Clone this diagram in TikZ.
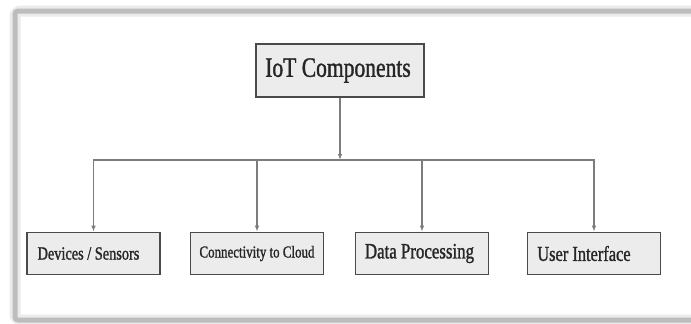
\documentclass[tikz,border=0pt]{standalone}
\usepackage{fontspec}
\setmainfont{Liberation Serif}[FakeStretch=0.77, FakeBold=1.2]
\usetikzlibrary{arrows.meta}
\definecolor{boxfill}{HTML}{ECECEC}
\definecolor{boxline}{HTML}{4A4A4A}
\definecolor{wire}{HTML}{7C7C7C}
\definecolor{framegray}{HTML}{BDBDBD}
\tikzset{
  part/.style={draw=boxline, line width=1.6pt, fill=boxfill, inner sep=0pt,
    minimum width=133pt, minimum height=42pt, text=black!85},
  link/.style={draw=wire, line width=1.4pt, -{Latex[length=6pt,width=4.5pt]}}
}
\begin{document}
\begin{tikzpicture}[x=1pt, y=-1pt]
\useasboundingbox[fill=white] (0,0) rectangle (691,324);
%frame:
\draw[framegray!30, line width=11pt, rounded corners=6pt] (720,11) -- (15,11) -- (15,320) -- (720,320);
\draw[framegray, line width=5pt, rounded corners=3pt] (720,11) -- (15,11) -- (15,320) -- (720,320);
%top box:
\node[part, minimum width=168pt, minimum height=53pt] (iot) at (340,70.5) {\fontsize{28}{32}\selectfont IoT Components\kern4pt};
%bottom boxes:
\node[part] (dev) at (93.5,253.5) {\fontsize{18.6}{22}\selectfont Devices / Sensors\kern10pt};
\node[part] (cloud) at (257,253.5) {\fontsize{16.8}{20}\selectfont Connectivity to Cloud};
\node[part] (proc) at (422,253.5) {\fontsize{21.9}{25}\selectfont Data Processing\kern5pt};
\node[part] (ui) at (594,253.5) {\fontsize{21.3}{25}\selectfont User Interface\kern20pt};
%links:
\coordinate (hub) at (340,160);
\draw[link] (iot) -- (hub);
\draw[link] (hub) -| (dev.north);
\draw[link] (hub) -| (cloud.north);
\draw[link] (hub) -| (proc.north);
\draw[link] (hub) -| (ui.north);
\end{tikzpicture}
\end{document}
